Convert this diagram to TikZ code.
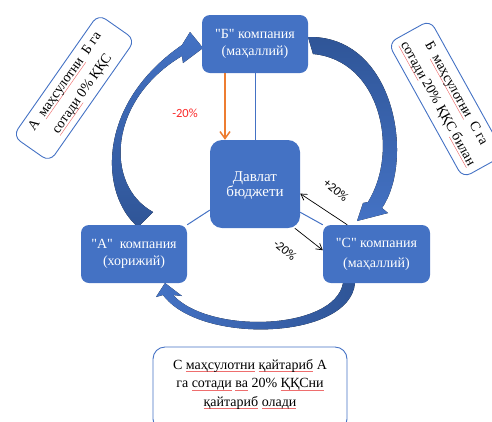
\documentclass[tikz,border=0pt]{standalone}
\usepackage{fontspec}
\setmainfont{Liberation Serif}
\newfontfamily\boxfont{Liberation Serif}
\newfontfamily\lblfont{Carlito}
\usetikzlibrary{arrows.meta}
\definecolor{spellred}{RGB}{238,110,110}
\newsavebox\spellbox
\newcommand\spell[1]{\sbox\spellbox{#1}\rlap{\textcolor{spellred}{\rule[-2.5pt]{\wd\spellbox}{0.45pt}}}\usebox\spellbox}

\definecolor{boxblue}{RGB}{68,114,196}
\definecolor{arrowdark}{RGB}{47,85,151}
\definecolor{linkorange}{RGB}{237,125,49}
\definecolor{redtxt}{RGB}{250,40,40}

\tikzset{
  firm/.style={fill=boxblue, rounded corners=8pt, text=white, align=center,
    minimum width=106pt, minimum height=58pt, inner sep=2pt,
    font=\boxfont\fontsize{14}{17}\selectfont},
  note/.style={draw=boxblue, line width=0.9pt, rounded corners=9pt, align=center,
    inner sep=2pt, font=\boxfont\fontsize{14}{21}\selectfont},
  pct/.style={inner sep=0.75pt, font=\lblfont\fontsize{12.5}{14}\selectfont},
  thinlink/.style={draw=boxblue, line width=1pt},
  flow/.style={draw=black, line width=0.7pt, -{Straight Barb[length=6pt,width=7pt]}},
}

\begin{document}
\begin{tikzpicture}[x=1pt,y=1pt,yscale=-1,xscale=1]
\useasboundingbox (0,0) rectangle (492,421);

%Curved Arrow: A to B
\fill [top color=boxblue, bottom color=arrowdark] (138,227) .. controls (100,195) and (95,105) .. (182,45) -- (190,32) -- (203,48) -- (183,63) -- (182,56) .. controls (108,100) and (104,185) .. (153,212) -- cycle ;
%Curved Arrow: B to C
\fill [top color=arrowdark, bottom color=boxblue] (308,37) .. controls (395,35) and (415,160) .. (382,208) -- (388,213) -- (357,221) -- (363,203) -- (368,202) .. controls (400,150) and (380,60) .. (313,54) -- cycle ;
%Curved Arrow: C to A
\fill [left color=boxblue, right color=arrowdark] (355,283) .. controls (350,340) and (200,345) .. (163,295) -- (156,297) -- (165,283) -- (182,296) -- (173,295) .. controls (210,335) and (335,330) .. (343,283) -- cycle ;

% Company Nodes
\node [firm] (b) at (255,44) {"Б" компания\\(маҳаллий)};
\node [firm] (a) at (134,254) {"А"\ \ компания\\(хорижий)};
\node [firm, minimum width=107pt, font=\boxfont\fontsize{14}{20}\selectfont] (c) at (376.5,254) {"С" компания\\(маҳаллий)};
\node [firm, minimum width=90pt, minimum height=88pt, rounded corners=12pt] (gov) at (255,184) {};
\node [text=white, align=center, font=\boxfont\fontsize{15}{15}\selectfont] (govtext) at (255,186) {Давлат\\бюджети};

%Straight Lines
\draw [thinlink] (b.south) -- (gov.north) ;
\draw [thinlink] (gov.210) -- (a.north east) ;
\draw [thinlink] (gov.-32) -- (c.north west) ;
\draw [draw=linkorange, line width=1.5pt, -{Straight Barb[length=7pt,width=10pt]}] ([xshift=-30pt]b.south) -- ([xshift=-30pt]gov.north) ;
\draw [flow] (c.135) -- (gov.-12) ;
\draw [flow] (gov.-48) -- (c.176) ;

% Text Node
\node [pct, text=redtxt] (cut) at (185,113) {-20\%};
\node [pct, rotate=-40] (plus) at (336,190) {+20\%};
\node [pct, rotate=-40] (minus) at (285,250) {-20\%};

% Note Boxes
\node [note, minimum width=149pt, minimum height=45pt, rotate=55] (notea) at (74,88) {А\ \ \spell{маҳсулотни}\ \ Б га\\\spell{сотади} 0\% ҚҚС};
\node [note, minimum width=154pt, minimum height=48pt, rotate=-61] (noteb) at (446.5,99) {Б\ \ \spell{маҳсулотни}\ \ С га\\\spell{сотади} 20\% ҚҚС \spell{билан}};
\node [note, minimum width=194pt, minimum height=84pt, rounded corners=12pt] (notec) at (250,389) {};
\node [align=center, font=\boxfont\fontsize{14}{18.5}\selectfont] (notectext) at (250,384) {С \spell{маҳсулотни} \spell{қайтариб} А\\га \spell{сотади} \spell{ва} 20\% \spell{ҚҚСни}\\\spell{қайтариб} \spell{олади}};

\end{tikzpicture}
\end{document}
